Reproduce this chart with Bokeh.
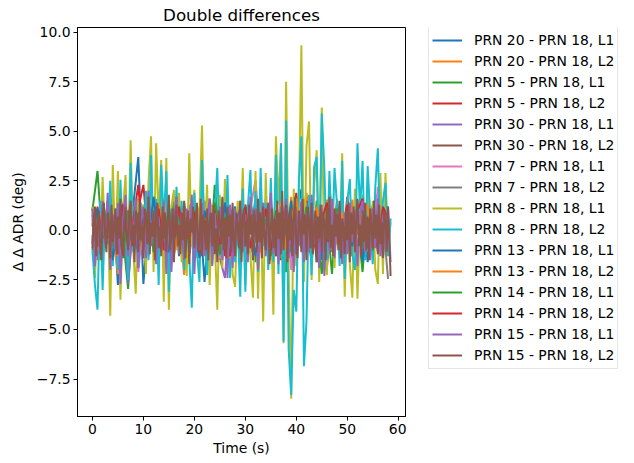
import numpy as np
from bokeh.plotting import figure
from bokeh.layouts import row
from bokeh.models import Range1d, FixedTicker, Legend, LegendItem, CustomJSTickFormatter
from bokeh.embed import file_html
from bokeh.resources import INLINE

# ---------------- data ----------------
DENSE_STEP = 0.25  # s
FAST_STEP = 0.5    # s
SLOW_STEP = 1.0    # s

labels = [
    "PRN 20 - PRN 18, L1", "PRN 20 - PRN 18, L2",
    "PRN 5 - PRN 18, L1", "PRN 5 - PRN 18, L2",
    "PRN 30 - PRN 18, L1", "PRN 30 - PRN 18, L2",
    "PRN 7 - PRN 18, L1", "PRN 7 - PRN 18, L2",
    "PRN 8 - PRN 18, L1", "PRN 8 - PRN 18, L2",
    "PRN 13 - PRN 18, L1", "PRN 13 - PRN 18, L2",
    "PRN 14 - PRN 18, L1", "PRN 14 - PRN 18, L2",
    "PRN 15 - PRN 18, L1", "PRN 15 - PRN 18, L2",
]

prn20_l1 = [0.4, -1.2, 1.0, -0.6, 1.6, -2.75, 0.8, -0.3, 1.2, 3.7, -2.7, 0.5, 1.3, -1.1, 0.7, -0.4, 1.5, -1.3, 0.2, 0.9,
            -0.8, 1.1, -2.6, 0.6, -0.5, 1.4, -1.0, 0.3, 1.2, -1.5, 0.8, -0.2, 1.6, -0.9, 0.5, -1.3, 1.0, -0.4, 1.8, -1.2,
            0.6, 2.1, -0.7, 1.3, -1.6, 0.4, 1.1, -0.8, 1.5, -1.0, 0.2, 0.9, -1.4, 0.7, -1.6, 1.2, -0.3, 1.0, 0.1]
prn20_l2 = [-0.5, 0.9, -1.3, 1.1, 0.2, -2.2, 1.4, -0.7, 0.6, -1.0, 1.3, 0.3, -0.9, 1.6, -0.4, 0.8, -1.2, 0.5, -2.25, 1.0,
            -0.3, 1.2, -0.8, 0.4, 1.5, -1.1, 0.7, -0.5, 1.0, -1.4, 0.3, 1.1, -0.6, 0.9, -1.0, 1.4, -0.2, 0.6, -1.3, 1.7,
            -0.9, 0.5, 1.9, -0.4, 1.2, -1.1, 1.55, 0.3, -0.7, 1.3, -0.5, 1.55, -0.9, 0.8, 1.4, -0.6, 1.0, -0.8, 0.5]
prn5_l1 = [1.0, 3.0, -0.8, 1.5, -1.2, 0.6, -0.3, -2.95, 1.1, 0.4, -1.0, 1.8, -0.6, 0.9, -1.4, 0.2, 1.3, -0.9, 0.7, -1.1,
           1.2, -0.4, 0.8, -1.5, 2.3, -0.7, 1.0, -1.2, 0.5, 1.4, -0.8, 0.3, -1.6, 1.1, -0.2, 0.9, -1.3, 1.6, -2.1, 0.4,
           1.2, -0.9, 0.6, -1.7, 1.5, -0.3, 0.8, -2.2, 1.3, -0.6, 0.9, -1.0, 0.4, -2.1, 1.1, -0.5, 1.4, -0.9, 0.7]
prn5_l2 = [-0.6, 1.2, -1.0, 0.5, 1.7, -0.9, 0.3, -1.4, 0.8, 1.1, 2.3, -0.7, 1.4, -0.3, 0.6, -1.2, 1.0, -0.5, 0.9, -1.1,
           1.3, 0.2, -0.8, 1.6, -0.4, 0.7, -1.3, 1.1, -0.2, 0.5, -1.0, 1.4, 0.1, -0.9, 1.2, -0.6, 0.8, -1.5, 1.0, -0.3,
           1.9, -0.8, 1.5, 0.4, -1.2, 1.1, -0.5, 1.25, 0.6, -1.0, 1.7, -0.4, 1.2, 0.3, -0.9, 1.25, 1.8, -0.6, 0.9]
prn30_l1 = [0.8, -1.5, 1.3, -0.4, 0.9, -1.8, 1.1, -2.7, 0.5, 1.6, -1.2, 0.3, 1.4, -0.9, 0.7, -1.6, 1.0, -0.2, 1.2, -1.3,
            0.6, -0.8, 1.5, -0.5, 0.9, -1.4, -2.4, 1.2, -0.7, 0.4, 1.3, -1.1, 0.8, -0.3, 1.6, -1.5, 0.5, -0.9, 1.1, -1.7,
            0.7, -0.4, 1.4, -1.2, 0.3, 1.0, -1.9, 0.6, -0.5, 1.3, -1.0, 0.2, 1.5, -1.3, 0.8, -0.6, 1.1, -1.4, 0.4]
prn30_l2 = [-0.4, 1.0, -1.2, 0.7, -0.6, 1.3, -0.9, 0.4, 1.1, -1.5, 0.6, -0.2, 1.2, -1.0, 0.5, -1.3, 0.9, -0.4, 1.4, -0.8,
            0.2, -1.1, 1.0, -0.5, 0.8, -1.4, 1.1, -0.3, 0.6, -1.2, 1.3, -0.7, 0.4, -1.0, 1.2, -0.6, 0.9, -1.3, 0.5, 1.0,
            -0.8, 1.4, -1.1, 0.3, 0.9, -1.2, 0.6, -0.4, 1.1, -0.9, 0.7, -1.3, 1.0, -0.5, 0.8, -1.0, 1.2, -0.7, 0.3]
prn7_l1 = [0.6, -1.0, 0.9, -0.4, 1.2, -0.7, 0.3, -1.3, 1.0, -2.1, 0.5, 1.1, -0.8, 0.4, -1.2, 0.9, -0.3, 1.3, -0.6, 0.7,
           -1.1, 0.2, 1.0, -0.9, 0.5, -1.4, 1.2, -0.4, 0.8, -1.0, 0.3, 1.1, 2.55, -0.6, 0.9, -1.3, 0.4, -0.8, 1.2, -2.0,
           0.6, -0.5, 1.0, -1.2, 0.7, -0.3, 1.1, -0.9, 0.5, -1.5, 0.8, -0.2, 1.3, -0.7, 0.4, -1.0, 2.2, 0.6, -0.4]
prn7_l2 = [-0.3, 0.8, -1.1, 0.5, -0.6, 1.0, -0.8, 0.3, 1.2, -0.9, 0.4, -1.3, 0.9, -0.2, 1.1, -0.7, 0.6, -1.0, 0.3, 1.3,
           -0.5, 0.8, -1.2, 0.4, -0.6, 1.0, -0.9, 0.2, 1.1, -0.4, 0.7, -1.1, 0.5, -0.8, 1.2, -0.3, 0.6, -1.4, 0.9, -0.5,
           1.0, -0.7, 0.3, -1.0, 1.2, -0.4, 0.8, -1.1, 0.5, -0.6, 1.0, -0.9, 0.4, -1.2, 0.7, -0.3, 1.1, 0.6, -2.45]
prn8_l1 = [1.2, -2.4, 0.8, -1.5, 2.7, -0.6, 1.4, -4.3, 3.3, -1.2,
           3.0, -3.5, 1.0, 2.8, -1.8, 4.55, -0.9, -3.2, 1.6, -0.4,
           1.3, -2.2, 2.4, 4.75, -2.1, 4.4, 0.6, 3.55, -3.6, 3.65,
           -4.0, 1.2, 2.05, -1.0, 1.9, -1.6, 0.5, -2.3, 3.9, -0.8,
           2.05, -1.4, 0.9, 5.3, -1.1, 2.3, -2.75, 1.2, -0.5, -4.0,
           1.8, -1.9, 2.6, -0.7, 1.1, -2.2, -2.85, 1.5, -0.9, 3.15,
           -2.75, 0.9, -1.3, -3.4, 3.0, -3.45, 1.7, -4.6, 2.9, -1.2,
           1.5, -4.25, 4.75, 1.3, 4.4, -5.7, 7.5, -2.0, -8.5, 2.1,
           -1.8, 1.4, 9.35, -2.6, 4.25, 5.5, -2.5, 2.2, 4.05, -2.6,
           6.2, -1.3, -2.25, 2.4, 0.8, -1.9, 1.6, -1.1, 3.9, -3.35,
           1.2, -1.7, -3.4, 2.1, -3.45, 0.6, 1.8, -1.4, 2.3, -0.9,
           1.5, -2.0, -2.7, 2.9, -2.2, 2.9, -1.0, 0.4]
prn8_l2 = [-1.0, -2.75, -4.0, 1.5, -3.0, 0.9, -0.7, 2.5, -1.8, 1.1,
           -2.0, 2.55, -0.8, 1.2, -2.5, 3.4, -1.1, 0.6, -1.9, 1.4,
           -0.6, 2.0, -1.5, 3.8, -0.9, 1.6, -2.75, 3.3, 0.5, 3.0,
           -3.1, 1.1, -1.2, 2.2, -0.8, 1.5, -2.0, 0.7, -1.4, -3.9,
           1.9, -1.0, -2.6, 3.55, -0.4, -2.25, 1.3, -1.7, 0.8, 3.15,
           -1.3, 1.6, -0.9, 2.8, -2.4, 1.0, -1.6, 0.4, -3.35, 2.1,
           -3.1, 1.2, 3.05, -1.5, 2.0, -2.1, 3.15, -0.8, 1.4, -2.0,
           2.65, -1.6, 3.8, -2.2, 4.4, -5.6, 5.55, -6.0, -8.3, -3.0,
           -4.1, 2.5, 4.75, -6.85, -4.6, 1.8, -2.25, 3.2, 3.7, -1.9,
           5.9, 3.15, -1.5, 3.0, -0.9, 3.15, 1.2, -1.8, 3.5, -2.45,
           1.4, 2.6, -1.2, -2.0, 4.4, 1.0, 3.5, -1.5, 3.25, 0.8,
           -1.7, 2.2, 4.15, -0.9, 1.5, 2.4, -1.3, 0.6]
prn13_l1 = [-0.7, 1.1, -0.4, 0.9, -1.5, 0.5, 1.3, -0.8, 0.2, -1.2, 1.0, -0.6, 1.7, -0.3, 0.8, -1.1, 0.4, -0.9, 1.2, -0.5,
            0.7, -1.4, 1.0, -0.2, 0.6, -1.0, 1.4, -0.7, 0.3, 1.1, -0.8, 0.5, -1.3, 0.9, -0.4, 1.2, -1.0, 0.6, -0.3, 1.5,
            -1.2, 0.4, 0.9, -0.6, 1.1, -1.5, 0.7, -0.2, 1.0, -1.1, 0.5, -0.8, 1.3, -1.6, 0.6, -0.4, 1.0, -0.9, 0.8]
prn13_l2 = [0.5, -0.9, 1.2, -0.5, 0.8, -1.3, 0.4, 1.0, -0.7, 0.3, -1.1, 0.9, -0.4, 1.3, -0.8, 0.6, -1.2, 0.2, 1.1, -0.6,
            0.7, -1.0, 0.5, -0.3, 1.2, -0.9, 0.4, -1.4, 0.8, -0.2, 1.0, -0.7, 0.6, -1.1, 0.3, 0.9, -0.5, 1.4, -1.0, 0.5,
            1.6, -0.3, 0.8, -0.9, 1.2, -0.4, 1.0, 1.5, -0.6, 0.9, -1.1, 1.2, -0.2, 0.7, 1.3, -0.8, 0.6, -0.5, 1.0]
prn14_l1 = [-1.0, 0.7, -0.3, 1.3, -0.8, 0.4, -1.4, 1.0, -0.5, 0.9, -0.2, 1.2, -1.1, 0.6, -0.7, 1.1, -0.4, 0.8, -1.3, 0.3,
            1.0, -0.9, 0.5, -0.6, 1.4, -1.2, 0.7, -0.3, 0.9, -1.0, 0.4, -0.8, 1.1, -0.5, 0.6, -1.3, 1.0, -0.2, 0.8, -1.1,
            0.3, -0.7, 1.2, -0.9, 0.5, -2.2, 0.9, -0.4, 1.1, -1.2, 0.6, -0.3, 1.0, -0.8, 0.4, -1.0, 0.7, -0.6, 0.5]
prn14_l2 = [0.3, -0.8, 1.0, -0.4, 0.7, -1.2, 1.3, -0.6, 0.5, 2.3, -0.9, 0.4, -0.3, 1.1, -1.0, 0.6, -0.5, 1.2, -0.8, 0.2,
            0.9, -1.1, 0.5, -0.2, 1.0, -0.7, 0.4, -1.3, 0.8, -0.4, 1.2, -0.9, 0.6, -0.3, 1.1, -1.0, 0.7, -0.5, 1.3, -0.8,
            0.3, 1.0, -0.6, 0.9, -1.2, 0.5, 1.4, -0.3, 0.8, -0.7, 1.3, -0.5, 1.0, 1.6, -0.4, 0.9, -1.1, 1.2, 0.6]
prn15_l1 = [1.1, -1.8, 0.6, -1.2, 1.5, -0.7, 1.9, -2.0, 0.8, -1.0,
            1.4, -2.7, 0.5, 1.8, -1.3, 0.9, -0.6, 1.6, -1.9, 0.4,
            1.2, -1.4, 2.0, -0.8, 1.0, -1.7, 0.7, -1.1, 1.5, -2.2,
            1.3, -2.1, 0.6, 1.7, -1.2, 0.9, -1.5, 1.1, -0.4, 1.8,
            -2.2, 0.8, -1.0, 1.4, -1.3, 0.5, 1.6, -1.8, 0.9, -0.7,
            1.2, -1.5, 0.4, -2.4, 1.3, -1.9, 1.0, -0.6, 1.5, -1.1,
            0.8, -1.6, 1.7, -0.9, 1.1, -2.0, 0.6, 1.4, -1.3, 0.3,
            1.9, -1.2, 0.7, -1.7, 1.2, -0.5, 1.6, -1.4, 0.4, -2.1,
            1.0, -0.8, 1.5, -1.6, 0.9, -1.1, 1.8, -0.7, 0.5, -1.9,
            1.3, -2.3, 0.8, -1.0, 1.6, -1.4, 0.6, 1.2, -1.7, 0.9,
            -1.2, 1.4, -0.6, 1.0, -1.8, 0.7, 1.5, -1.1, 0.3, -1.5,
            1.1, -0.9, 1.6, -1.3, 0.8, -1.0, 1.2, -1.6]
prn15_l2 = [-0.9, 0.6, 1.2, -1.3, 0.2, 1.0, -0.7, -1.5, 0.8, 1.4,
            -0.3, -1.1, 0.9, 0.4, -1.4, 1.3, -0.6, 0.1, 1.1, -1.2,
            0.7, -0.4, 1.6, -0.9, -1.3, 0.5, 1.2, -0.2, -1.0, 0.9,
            1.5, -0.8, 0.3, -1.6, 1.0, 0.6, -1.1, 1.3, -0.5, 0.2,
            -1.4, 1.1, 0.8, -0.7, 1.7, -1.2, 0.4, -0.3, 1.0, -1.5,
            0.6, 1.4, -0.9, 0.2, -1.3, 1.2, -0.4, 0.9, -1.1, 0.5,
            1.8, -1.0, -0.2, 1.1, -1.6, 0.7, 1.3, -0.8, 0.3, -1.2,
            0.9, -0.5, 1.5, -1.4, 0.4, 1.0, -1.7, 0.6, -0.1, 1.2,
            -0.9, 0.3, 1.4, -1.1, -0.6, 1.6, -1.3, 0.8, 0.2, -1.0,
            1.1, -1.5, 0.5, 0.9, -0.8, 1.3, -1.2, 0.1, -1.6, 1.0,
            0.4, -0.7, 1.7, -1.0, 0.6, -1.4, 1.2, -0.3, 0.8, -1.1,
            1.4, -0.5, -1.3, 0.9, 0.2, -0.9, 1.5, -1.6, 0.7, 1.1,
            -0.8, 0.5, -1.2, 1.3, -0.2, 0.8, -1.5, 1.0, 0.3, -1.1,
            1.6, -0.6, 0.9, -1.4, 1.2, -0.3, -1.0, 0.7, 1.4, -1.7,
            0.2, 1.1, -0.9, 0.6, -1.3, 1.5, -0.4, 0.9, -1.2, 2.0,
            -1.0, 0.4, 1.3, -1.6, 0.8, -0.5, 1.1, -1.3, 0.6, 1.7,
            -0.7, -1.4, 1.0, 0.3, -1.1, 1.6, -0.2, 0.8, -1.5, 1.2,
            0.5, -0.9, 1.4, -1.2, 0.1, 1.0, -1.6, 0.7, -0.4, 1.3,
            -1.1, 0.9, 0.4, -1.5, 1.2, -0.6, 1.7, -0.9, 0.3, -1.3,
            1.1, -0.3, 0.8, -1.0, 1.5, -1.4, 0.6, 0.2, -1.2, 1.0,
            -0.5, 1.3, -1.6, 0.9, -0.2, 1.2, -1.1, 0.5, 1.6, -0.8,
            0.3, -1.3, 1.0, -0.6, 1.4, -1.0, 0.7, -1.5, 1.1, 0.1,
            -0.9, 1.5, -0.4, 0.8, -1.2, 1.3, -0.7, 0.4, -1.4, 1.0,
            0.6, -1.1, 1.2, -0.5, -2.3]

series = [
    (prn20_l1, SLOW_STEP), (prn20_l2, SLOW_STEP),
    (prn5_l1, SLOW_STEP), (prn5_l2, SLOW_STEP),
    (prn30_l1, SLOW_STEP), (prn30_l2, SLOW_STEP),
    (prn7_l1, SLOW_STEP), (prn7_l2, SLOW_STEP),
    (prn8_l1, FAST_STEP), (prn8_l2, FAST_STEP),
    (prn13_l1, SLOW_STEP), (prn13_l2, SLOW_STEP),
    (prn14_l1, SLOW_STEP), (prn14_l2, SLOW_STEP),
    (prn15_l1, FAST_STEP), (prn15_l2, DENSE_STEP),
]

x_ticks = [0, 10, 20, 30, 40, 50, 60]
y_ticks = [-7.5, -5.0, -2.5, 0.0, 2.5, 5.0, 7.5, 10.0]

tab10 = ["#1f77b4", "#ff7f0e", "#2ca02c", "#d62728", "#9467bd",
         "#8c564b", "#e377c2", "#7f7f7f", "#bcbd22", "#17becf"]

FONT = "DejaVu Sans"

# ---------------- ranges like matplotlib autoscale (5% margins) ----------------
t_max = max((len(v) - 1) * s for v, s in series)
y_all = [y for v, _ in series for y in v]
y_min, y_max = min(y_all), max(y_all)
dx = 0.05 * t_max
dy = 0.05 * (y_max - y_min)

# main plot: canvas 0..406 px wide, frame 77..405
p = figure(width=406, height=463, output_backend="svg", toolbar_location=None,
           x_range=Range1d(0 - dx, t_max + dx), y_range=Range1d(y_min - dy, y_max + dy),
           min_border_left=77, min_border_right=1, min_border_top=24, min_border_bottom=47)
p.background_fill_color = "white"
p.border_fill_color = "white"
p.outline_line_color = "black"
p.outline_line_width = 1
p.xgrid.visible = False
p.ygrid.visible = False

p.title.text = "Double differences"
p.title.align = "center"
p.title.text_font = FONT
p.title.text_font_size = "16.7px"
p.title.text_font_style = "normal"
p.title.text_color = "black"
p.title.standoff = 5

for i, (vals, step) in enumerate(series):
    t = np.arange(len(vals)) * step
    p.line(t, vals, line_color=tab10[i % 10], line_width=2.0)

for ax in (p.xaxis[0], p.yaxis[0]):
    ax.major_label_text_font = FONT
    ax.major_label_text_font_size = "13.9px"
    ax.major_label_text_color = "black"
    ax.axis_label_text_font = FONT
    ax.axis_label_text_font_size = "13.9px"
    ax.axis_label_text_font_style = "normal"
    ax.axis_label_text_color = "black"
    ax.minor_tick_line_color = None
    ax.major_tick_out = 4
    ax.major_tick_in = 0
    ax.major_tick_line_color = "black"
    ax.axis_line_color = "black"
    ax.major_label_standoff = 3

p.xaxis.ticker = FixedTicker(ticks=x_ticks)
p.yaxis.ticker = FixedTicker(ticks=y_ticks)
p.yaxis.formatter = CustomJSTickFormatter(code="return tick.toFixed(1).replace('-', '\u2212');")
p.xaxis.axis_label = "Time (s)"
p.yaxis.axis_label = "\u0394 \u0394 ADR (deg)"
p.xaxis.axis_label_standoff = 3
p.yaxis.axis_label_standoff = 8

# legend panel to the right of the axes (same line styles as the series);
# each legend entry uses a line renderer with a single empty (NaN) point so it draws nothing in the panel
q = figure(width=228, height=463, output_backend="svg", toolbar_location=None,
           min_border_left=0, min_border_right=0, min_border_top=24, min_border_bottom=47,
           x_axis_type=None, y_axis_type=None, x_range=Range1d(0, 1), y_range=Range1d(0, 1))
q.outline_line_color = None
q.background_fill_color = "white"
q.border_fill_color = "white"
q.xgrid.visible = False
q.ygrid.visible = False
items = []
for i, lab in enumerate(labels):
    r = q.line(x=[np.nan], y=[np.nan], line_color=tab10[i % 10], line_width=2.0)
    items.append(LegendItem(label=lab, renderers=[r]))
legend = Legend(items=items, location=(22, 47), margin=0, padding=3, spacing=1,
                label_height=20, glyph_height=20, glyph_width=30, label_standoff=12,
                label_text_font=FONT, label_text_font_size="13.9px", label_text_color="black",
                border_line_color="#cccccc", border_line_width=1,
                background_fill_color="white", background_fill_alpha=0.8)
q.add_layout(legend, "center")

layout = row(p, q, spacing=0)
open("out.html", "w").write(file_html(layout, INLINE))
